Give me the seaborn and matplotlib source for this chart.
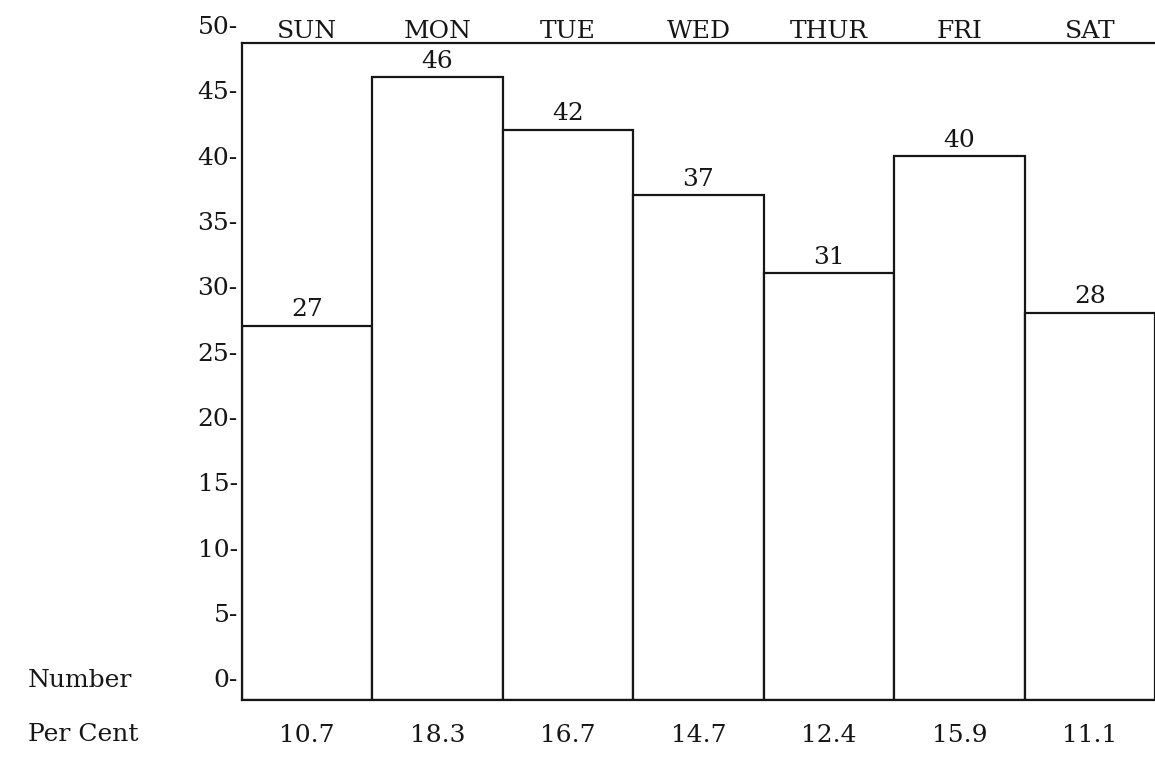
import matplotlib
matplotlib.use("Agg")
import matplotlib.pyplot as plt
import matplotlib.transforms as mtransforms
import seaborn as sns

# data
days = ['SUN', 'MON', 'TUE', 'WED', 'THUR', 'FRI', 'SAT']
counts = [27, 46, 42, 37, 31, 40, 28]
per_cent = [10.7, 18.3, 16.7, 14.7, 12.4, 15.9, 11.1]
y_ticks = [0, 5, 10, 15, 20, 25, 30, 35, 40, 45]
top_tick = 50

sns.set_style('white')
plt.rcParams['font.family'] = ['DejaVu Serif', 'DejaVu Sans']
ink = '#161616'
fs = 18

fig = plt.figure(figsize=(11.55, 7.69), dpi=100)
ax = fig.add_axes([0.2095, 0.0897, 0.7905, 0.854])

sns.barplot(x=days, y=counts, color='white', saturation=1, edgecolor=ink,
            linewidth=1.6, width=1, ax=ax)

# bars in the original run down to the base line, a bit under the zero mark
base = -1.65
for p in ax.patches:
    top = p.get_y() + p.get_height()
    p.set_y(base)
    p.set_height(top - base)

ax.bar_label(ax.containers[0], fmt='%d', padding=3, fontsize=fs, color=ink)

ax.set_xlim(-0.5, 6.5)
ax.set_ylim(base, 48.6)

# y axis: typed labels like "45-"
ax.set_yticks(y_ticks, [f'{v}-' for v in y_ticks])
ax.tick_params(axis='y', length=0, pad=3, labelsize=fs, labelcolor=ink)
ax.text(0, top_tick, f'{top_tick}-', ha='right', va='center_baseline',
        fontsize=fs, color=ink, clip_on=False,
        transform=mtransforms.offset_copy(ax.get_yaxis_transform(), fig=fig,
                                          x=-3, units='points'))

# bottom: per cent row
ax.set_xticks(range(len(days)), [f'{v:.1f}' for v in per_cent])
ax.tick_params(axis='x', length=0, pad=17, labelsize=fs, labelcolor=ink)
ax.set_xlabel('')
ax.set_ylabel('')

# top: day names
sec = ax.secondary_xaxis('top')
sec.set_xticks(range(len(days)), days)
sec.tick_params(length=0, pad=0.5, labelsize=fs, labelcolor=ink)
sec.spines['top'].set_visible(False)

for s in ['left', 'bottom', 'top']:
    ax.spines[s].set_color(ink)
    ax.spines[s].set_linewidth(1.6)
ax.spines['right'].set_visible(False)

blend = mtransforms.blended_transform_factory(fig.transFigure, ax.transData)
ax.text(0.024, 0, 'Number', ha='left', va='center_baseline', fontsize=fs,
        color=ink, transform=blend, clip_on=False)
fig.text(0.024, 0.0445, 'Per Cent', ha='left', va='center', fontsize=fs, color=ink)

fig.savefig('out.png', dpi=100, facecolor='white')
